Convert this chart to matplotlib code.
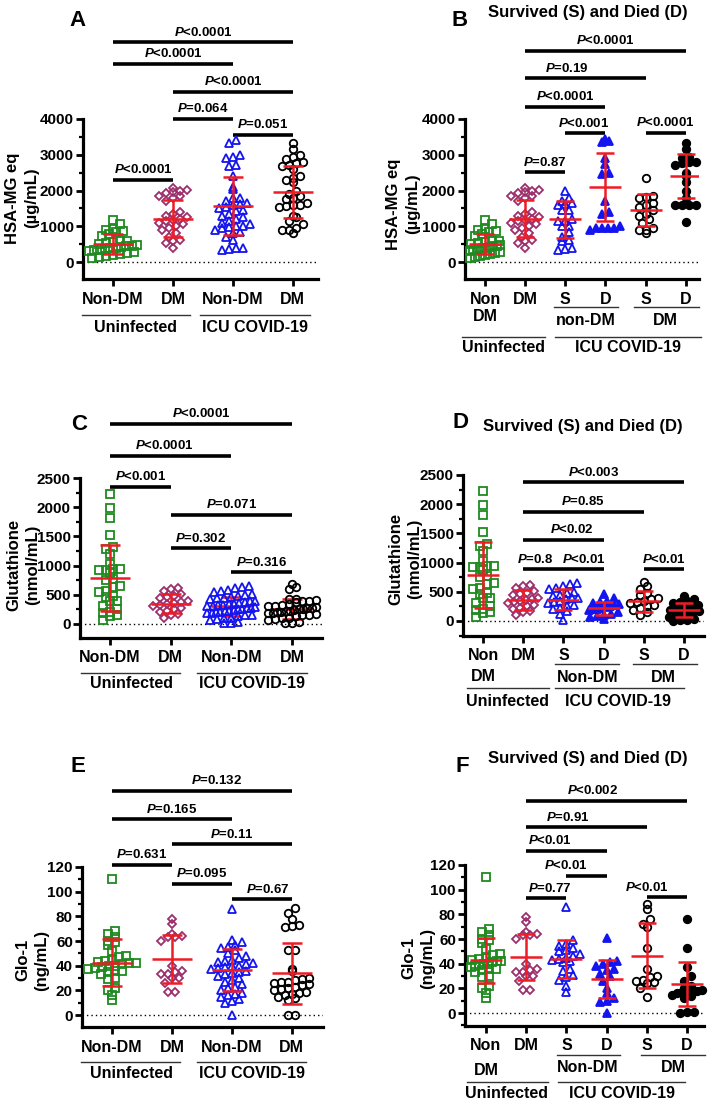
import numpy as np
import matplotlib
matplotlib.use("Agg")
import matplotlib.pyplot as plt
from matplotlib.ticker import MultipleLocator
from matplotlib.transforms import blended_transform_factory

plt.rcParams['font.family'] = ['Liberation Sans', 'DejaVu Sans']
plt.rcParams['font.weight'] = 'bold'
plt.rcParams['mathtext.fontset'] = 'custom'
plt.rcParams['mathtext.it'] = 'Liberation Sans:italic:bold'
plt.rcParams['mathtext.rm'] = 'Liberation Sans:bold'
plt.rcParams['mathtext.bf'] = 'Liberation Sans:bold'

# ---------------- data ----------------
# HSA-MG eq (µg/mL)
hsa_uninf_nondm = [1170, 1050, 920, 900, 880, 850, 780, 720, 600, 580, 560, 520, 500, 480, 460,
                   450, 430, 400, 380, 360, 350, 330, 300, 280, 250, 230, 200, 170, 130, 100]
hsa_uninf_dm = [2060, 2020, 1990, 1960, 1940, 1860, 1840, 1800, 1700, 1400, 1340, 1300, 1250, 1200,
                1180, 1150, 1100, 1060, 1000, 950, 900, 800, 700, 620, 580, 520, 400]
hsa_icu_nondm = [3400, 3330, 3000, 2950, 2900, 2700, 2680, 2400, 2100, 2050, 1800, 1780, 1700, 1650,
                 1620, 1600, 1550, 1500, 1450, 1420, 1350, 1300, 1250, 1200, 1150, 1100, 1050, 1000,
                 1000, 980, 950, 900, 850, 800, 700, 620, 400, 380, 360, 350]
hsa_icu_dm = [3320, 3150, 3000, 2950, 2880, 2800, 2780, 2700, 2680, 2600, 2400, 2350, 2300, 2250,
              2000, 1900, 1850, 1800, 1750, 1650, 1600, 1600, 1580, 1550, 1300, 1250, 1150, 1050,
              950, 900, 900, 800]
hsa_nondm_S = [2000, 1800, 1700, 1650, 1620, 1600, 1450, 1450, 1200, 1150, 1150, 1000, 1000, 850,
               700, 620, 600, 380, 370, 350]
hsa_nondm_D = [3450, 3380, 3350, 2920, 2750, 2500, 2450, 1700, 1400, 1350, 1000, 960, 950, 950, 940, 900]
hsa_dm_S = [2350, 1850, 1820, 1800, 1650, 1600, 1550, 1450, 1350, 1300, 1200, 1100, 950, 900, 900, 800]
hsa_dm_D = [3320, 3150, 2950, 2900, 2800, 2800, 2780, 2700, 2500, 2400, 2250, 2000, 1800, 1600,
            1600, 1600, 1600, 1120]
hsa4_mean = [515, 1215, 1565, 1960]
hsa4_sd = [280, 515, 820, 735]
hsa6_mean = [515, 1215, 1190, 2100, 1450, 2410]
hsa6_sd = [280, 515, 520, 940, 445, 625]

# Glutathione (nmol/mL)
gsh_uninf_nondm = [2230, 1980, 1820, 1520, 1310, 1290, 1200, 1020, 950, 940, 930, 920, 880, 770,
                   760, 650, 640, 560, 550, 480, 470, 400, 390, 300, 250, 200, 180, 160, 140, 60]
gsh_uninf_dm = [620, 600, 560, 520, 480, 460, 440, 400, 380, 360, 340, 320, 300, 270, 250, 220,
                200, 170, 150, 100]
gsh_icu_nondm = [650, 630, 610, 580, 560, 540, 520, 500, 480, 470, 450, 440, 420, 400, 390, 380,
                 360, 350, 340, 330, 320, 310, 300, 290, 280, 270, 260, 250, 240, 230, 220, 210,
                 200, 190, 180, 160, 150, 130, 110, 100, 80, 60, 40, 20, 10]
gsh_icu_dm = [680, 640, 600, 430, 420, 410, 400, 390, 370, 350, 330, 310, 300, 290, 280, 270, 260,
              250, 240, 230, 220, 210, 200, 190, 180, 170, 160, 150, 130, 110, 100, 80, 60, 40, 20, 10]
gsh_nondm_S = [650, 630, 600, 560, 540, 500, 480, 450, 430, 400, 390, 370, 350, 330, 300, 280, 250,
               220, 200, 170, 120, 20]
gsh_nondm_D = [460, 400, 350, 330, 300, 290, 270, 250, 240, 220, 210, 200, 180, 150, 120, 100, 80, 60, 40]
gsh_dm_S = [660, 600, 550, 480, 450, 400, 380, 350, 320, 300, 280, 260, 220, 180, 150, 110]
gsh_dm_D = [420, 380, 350, 330, 300, 280, 250, 230, 200, 180, 170, 150, 120, 100, 80, 60, 40, 20, 10, 5]
gsh4_mean = [785, 350, 300, 255]
gsh4_sd = [565, 165, 170, 165]
gsh6_mean = [787, 355, 368, 215, 335, 190]
gsh6_sd = [560, 170, 180, 115, 185, 115]

# Glo-1 (ng/mL)
glo_uninf_nondm = [110, 68, 66, 63, 60, 59, 57, 52, 48, 47, 45, 44, 43, 42, 42, 41, 40, 40, 39, 38,
                   37, 36, 36, 35, 33, 30, 29, 22, 20, 16, 12]
glo_uninf_dm = [78, 74, 66, 64, 63, 63, 60, 40, 36, 35, 33, 33, 30, 30, 26, 19, 19]
glo_icu_nondm = [86, 61, 59, 57, 55, 54, 53, 50, 48, 46, 45, 44, 43, 42, 41, 40, 40, 39, 38, 37, 36,
                 35, 34, 33, 32, 30, 28, 27, 25, 23, 22, 20, 18, 17, 16, 15, 13, 11, 10, 0]
glo_icu_dm = [87, 83, 78, 73, 72, 71, 53, 53, 37, 36, 30, 29, 28, 27, 27, 26, 25, 24, 23, 22, 21, 20,
              19, 18, 17, 16, 15, 14, 12, 0, 0]
glo_nondm_S = [86, 59, 56, 54, 53, 51, 50, 48, 46, 45, 44, 43, 42, 41, 36, 34, 31, 29, 27, 22, 17]
glo_nondm_D = [61, 42, 41, 40, 38, 36, 35, 32, 30, 26, 20, 16, 12, 10, 9, 0]
glo_dm_S = [88, 84, 76, 72, 70, 53, 36, 30, 29, 27, 26, 25, 24, 20, 13]
glo_dm_D = [76, 53, 37, 30, 26, 22, 20, 19, 18, 18, 17, 17, 16, 15, 14, 12, 1, 1, 0]
glo4_mean = [42.5, 45.5, 36.5, 33.8]
glo4_sd = [18.8, 19.4, 17.4, 24.9]
glo6_mean = [42.7, 45.4, 43.7, 27.6, 46.5, 23.5]
glo6_sd = [18.5, 19.0, 15.5, 15.5, 26.3, 18.0]

labels4 = ['Non-DM', 'DM', 'Non-DM', 'DM']
labels6 = ['Non\nDM', 'DM', 'S', 'D', 'S', 'D']

# comparisons: (group i, group j, label, bracket height, text shift)
cmp_A = [(0, 3, 'P<0.0001', 6150, 0), (0, 2, 'P<0.0001', 5540, 0), (1, 3, 'P<0.0001', 4755, 0),
         (1, 2, 'P=0.064', 4000, 0), (2, 3, 'P=0.051', 3550, 0), (0, 1, 'P<0.0001', 2295, 0)]
cmp_B = [(1, 5, 'P<0.0001', 5900, 0), (1, 4, 'P=0.19', 5140, -0.46), (1, 3, 'P<0.0001', 4345, 0),
         (2, 3, 'P<0.001', 3600, -0.05), (4, 5, 'P<0.0001', 3617, 0), (1, 2, 'P=0.87', 2510, 0)]
cmp_C = [(0, 3, 'P<0.0001', 3424, 0), (0, 2, 'P<0.0001', 2882, -0.1), (0, 1, 'P<0.001', 2351, 0),
         (1, 3, 'P=0.071', 1866, 0), (1, 2, 'P=0.302', 1296, 0), (2, 3, 'P=0.316', 885, 0)]
cmp_D = [(1, 5, 'P<0.003', 2374, -0.25), (1, 4, 'P=0.85', 1871, 0), (1, 3, 'P<0.02', 1387, 0.2),
         (1, 2, 'P=0.8', 885, -0.2), (2, 3, 'P<0.01', 885, 0), (4, 5, 'P<0.01', 885, 0)]
cmp_E = [(0, 3, 'P=0.132', 181.6, 0.25), (0, 2, 'P=0.165', 158.7, 0), (1, 3, 'P=0.11', 138.4, 0),
         (0, 1, 'P=0.631', 121.6, 0), (1, 2, 'P=0.095', 106.2, 0), (2, 3, 'P=0.67', 93.8, 0.1)]
cmp_F = [(1, 5, 'P<0.002', 172.1, -0.35), (1, 4, 'P=0.91', 150.6, -0.46), (1, 3, 'P<0.01', 131.6, -0.4),
         (2, 3, 'P<0.01', 111.1, -0.5), (1, 2, 'P=0.77', 93.0, 0.1), (4, 5, 'P<0.01', 93.8, -0.5)]

# ---------------- styles ----------------
GREEN = '#1F8A1F'
PURPLE = '#9C2E6C'
BLUE = '#1414F0'
BLACK = '#000000'
RED = '#EE1C25'
sty4 = [('s', GREEN, False), ('D', PURPLE, False), ('^', BLUE, False), ('o', BLACK, False)]
sty6 = [('s', GREEN, False), ('D', PURPLE, False), ('^', BLUE, False), ('^', BLUE, True),
        ('o', BLACK, False), ('o', BLACK, True)]
msize = {'s': 5.2, 'D': 4.2, '^': 5.6, 'o': 5.4}

W, H, DPI = 711, 1103, 100
fig = plt.figure(figsize=(W / DPI, H / DPI), dpi=DPI)

panels = [
    dict(letter='A', lpos=(77, 21), title=None, rect=(83, 119, 318, 279), xlim=(-0.5, 3.42),
         ylim=(-475, 4000), major=1000, minor=500,
         groups=[hsa_uninf_nondm, hsa_uninf_dm, hsa_icu_nondm, hsa_icu_dm],
         mean=hsa4_mean, sd=hsa4_sd, sty=sty4, xl=labels4, cmp=cmp_A, ls=1.2,
         ylabel='HSA-MG eq\n(µg/mL)', ypos=(22, 198),
         lines=[(-0.52, 1.28, 315), (1.45, 3.28, 315)],
         texts=[(0.38, 328, 'Uninfected'), (2.37, 328, 'ICU COVID-19')], errtop=[1, 1, 1, 1]),
    dict(letter='B', lpos=(460, 20), title=(588, 12), rect=(465, 119, 699, 279), xlim=(-0.5, 5.33),
         ylim=(-475, 4000), major=1000, minor=500,
         groups=[hsa_uninf_nondm, hsa_uninf_dm, hsa_nondm_S, hsa_nondm_D, hsa_dm_S, hsa_dm_D],
         mean=hsa6_mean, sd=hsa6_sd, sty=sty6, xl=labels6, cmp=cmp_B, ls=1.2,
         ylabel='HSA-MG eq\n(µg/mL)', ypos=(403, 204),
         lines=[(1.72, 3.3, 307), (3.72, 5.33, 307), (-0.58, 1.5, 337), (1.75, 5.38, 337)],
         texts=[(2.5, 321, 'non-DM'), (4.5, 321, 'DM'), (0.45, 348, 'Uninfected'),
                (3.55, 348, 'ICU COVID-19')], errtop=[1, 1, 1, 1, 1, 1]),
    dict(letter='C', lpos=(79, 424), title=None, rect=(80, 478, 322, 638), xlim=(-0.49, 3.49),
         ylim=(-240, 2500), major=500, minor=250,
         groups=[gsh_uninf_nondm, gsh_uninf_dm, gsh_icu_nondm, gsh_icu_dm],
         mean=gsh4_mean, sd=gsh4_sd, sty=sty4, xl=labels4, cmp=cmp_C, ls=1.2,
         ylabel='Glutathione\n(nmol/mL)', ypos=(23, 565),
         lines=[(-0.48, 1.15, 673), (1.43, 3.25, 673)],
         texts=[(0.35, 684, 'Uninfected'), (2.34, 684, 'ICU COVID-19')], errtop=[1, 1, 0, 0]),
    dict(letter='D', lpos=(460, 423), title=(583, 427), rect=(463, 475, 704, 636), xlim=(-0.5, 5.5),
         ylim=(-257, 2500), major=500, minor=250,
         groups=[gsh_uninf_nondm, gsh_uninf_dm, gsh_nondm_S, gsh_nondm_D, gsh_dm_S, gsh_dm_D],
         mean=gsh6_mean, sd=gsh6_sd, sty=sty6, xl=labels6, cmp=cmp_D, ls=1.45,
         ylabel='Glutathione\n(nmol/mL)', ypos=(405, 559),
         lines=[(1.8, 3.38, 664), (3.73, 5.33, 664), (-0.4, 1.65, 688), (1.8, 5.0, 688)],
         texts=[(2.6, 677, 'Non-DM'), (4.5, 677, 'DM'), (0.6, 701, 'Uninfected'),
                (3.35, 701, 'ICU COVID-19')], errtop=[1, 1, 1, 1, 1, 1]),
    dict(letter='E', lpos=(78, 767), title=None, rect=(82, 867, 323, 1027), xlim=(-0.5, 3.52),
         ylim=(-9.7, 120), major=20, minor=10,
         groups=[glo_uninf_nondm, glo_uninf_dm, glo_icu_nondm, glo_icu_dm],
         mean=glo4_mean, sd=glo4_sd, sty=sty4, xl=labels4, cmp=cmp_E, ls=1.2,
         ylabel='Glo-1\n(ng/mL)', ypos=(32, 960),
         lines=[(-0.52, 1.13, 1062), (1.42, 3.23, 1062)],
         texts=[(0.32, 1074, 'Uninfected'), (2.33, 1074, 'ICU COVID-19')], errtop=[1, 1, 1, 1]),
    dict(letter='F', lpos=(462, 767), title=(588, 759), rect=(465, 865, 704, 1026), xlim=(-0.52, 5.42),
         ylim=(-10.5, 120), major=20, minor=10,
         groups=[glo_uninf_nondm, glo_uninf_dm, glo_nondm_S, glo_nondm_D, glo_dm_S, glo_dm_D],
         mean=glo6_mean, sd=glo6_sd, sty=sty6, xl=labels6, cmp=cmp_F, ls=1.8,
         ylabel='Glo-1\n(ng/mL)', ypos=(418, 958),
         lines=[(1.77, 3.33, 1055), (3.86, 5.45, 1055), (-0.47, 1.54, 1082), (1.79, 4.95, 1082)],
         texts=[(2.54, 1067, 'Non-DM'), (4.65, 1067, 'DM'), (0.52, 1093, 'Uninfected'),
                (3.38, 1093, 'ICU COVID-19')], errtop=[1, 1, 1, 1, 1, 1]),
]


def fy(ypx):
    return 1 - ypx / H


def swarm_offsets(values, ppu_y, ppu_x, row_px, step_px, max_half_px):
    v = np.asarray(values, float)
    rows = np.floor(v * ppu_y / row_px + 0.5)
    offs = np.zeros(len(v))
    for r in np.unique(rows):
        idx = np.where(rows == r)[0]
        idx = idx[np.argsort(v[idx])]
        n = len(idx)
        if n < 2:
            continue
        step = step_px
        if (n - 1) * step / 2 > max_half_px:
            step = 2 * max_half_px / (n - 1)
        offs[idx] = (np.arange(n) - (n - 1) / 2) * step
    return offs / ppu_x


def pfmt(s):
    return r'$\mathit{P}$' + s[1:]


for p in panels:
    l, t, r, b = p['rect']
    ax = fig.add_axes([l / W, 1 - b / H, (r - l) / W, (b - t) / H])
    ax.set_xlim(*p['xlim'])
    ax.set_ylim(*p['ylim'])
    ppu_x = (r - l) / (p['xlim'][1] - p['xlim'][0])
    ppu_y = (b - t) / (p['ylim'][1] - p['ylim'][0])
    n = len(p['groups'])
    six = n == 6
    mean_hw = 16 / ppu_x if six else 20 / ppu_x
    cap_pt = 6.5 if six else 7.2
    maxhalf = 15 if six else 24
    for k, vals in enumerate(p['groups']):
        mk, col, filled = p['sty'][k]
        xo = swarm_offsets(vals, ppu_y, ppu_x, 7.0, 7.0, maxhalf)
        ax.plot(k + xo, vals, linestyle='none', marker=mk, ms=msize[mk],
                mfc=col if filled else 'none', mec=col, mew=1.3, zorder=4, clip_on=False)
        z = 5 if p['errtop'][k] else 3
        ax.errorbar([k], [p['mean'][k]], yerr=[p['sd'][k]], fmt='none', ecolor=RED,
                    elinewidth=1.8, capsize=cap_pt, capthick=1.8, zorder=z)
        ax.hlines(p['mean'][k], k - mean_hw, k + mean_hw, colors=RED, lw=1.8, zorder=z)
    ax.axhline(0, color='black', lw=1.0, ls=(0, (1, 2.2)), zorder=1)

    for side in ['top', 'right']:
        ax.spines[side].set_visible(False)
    for side in ['left', 'bottom']:
        ax.spines[side].set_linewidth(2.3)
    ax.yaxis.set_major_locator(MultipleLocator(p['major']))
    ax.yaxis.set_minor_locator(MultipleLocator(p['minor']))
    ax.set_yticks([v for v in np.arange(0, p['ylim'][1] + 1, p['major'])])
    ax.set_yticklabels([f"{int(v)}" for v in np.arange(0, p['ylim'][1] + 1, p['major'])],
                       fontsize=11, fontweight='bold')
    ax.tick_params(axis='y', which='major', length=5, width=2, pad=1.5, direction='out')
    ax.tick_params(axis='y', which='minor', length=3, width=1.6, direction='out')
    ax.set_xticks(range(n))
    ax.set_xticklabels(p['xl'], fontsize=11.5, fontweight='bold', linespacing=p['ls'])
    ax.tick_params(axis='x', length=5, width=2, pad=4, direction='out')

    # comparison brackets
    for (i, j, lab, yb, dx) in p['cmp']:
        ax.plot([i, j], [yb, yb], color='black', lw=2.6, solid_capstyle='butt', clip_on=False)
        ax.annotate(pfmt(lab), xy=((i + j) / 2 + dx, yb), xytext=(0, 2.6), textcoords='offset points',
                    ha='center', va='bottom', fontsize=9.5, fontweight='bold', annotation_clip=False)

    # group labels below axis
    blend = blended_transform_factory(ax.transData, fig.transFigure)
    for (x0, x1, ypx) in p['lines']:
        ax.plot([x0, x1], [fy(ypx), fy(ypx)], color='#333333', lw=1.0, transform=blend, clip_on=False)
    for (xc, ypx, s) in p['texts']:
        ax.text(xc, fy(ypx), s, transform=blend, ha='center', va='center', fontsize=11.5,
                fontweight='bold')

    fig.text(p['ypos'][0] / W, fy(p['ypos'][1]), p['ylabel'], rotation=90, ha='center', va='center',
             fontsize=12, fontweight='bold', linespacing=1.35, multialignment='center')
    fig.text(p['lpos'][0] / W, fy(p['lpos'][1]), p['letter'], ha='center', va='center',
             fontsize=16, fontweight='bold')
    if p['title']:
        fig.text(p['title'][0] / W, fy(p['title'][1]), 'Survived (S) and Died (D)', ha='center',
                 va='center', fontsize=12, fontweight='bold')

fig.savefig('out.png', dpi=DPI)
